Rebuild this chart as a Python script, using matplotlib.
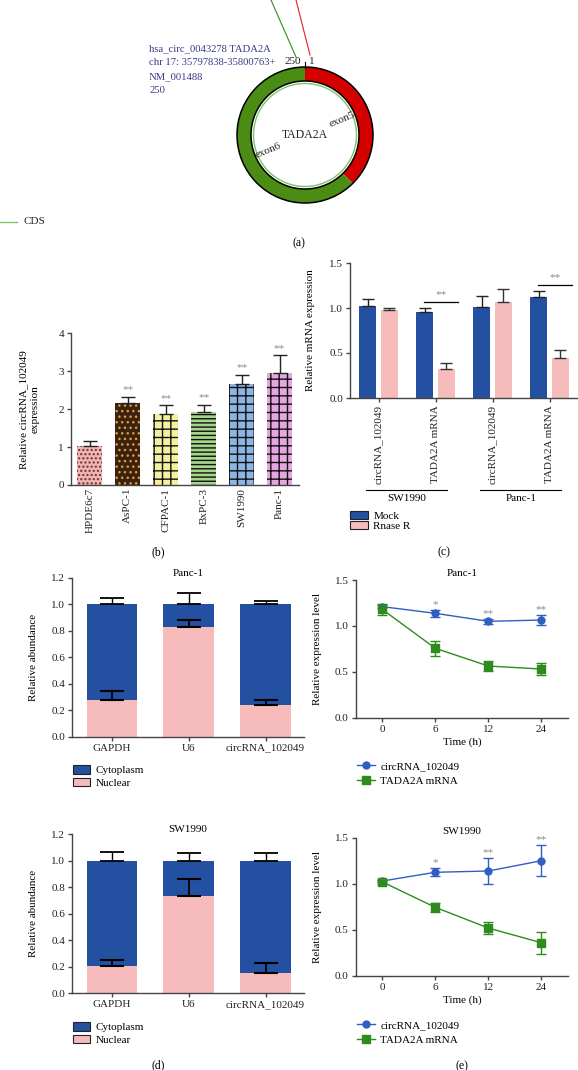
import numpy as np
import matplotlib
matplotlib.use("Agg")
import matplotlib.pyplot as plt
from matplotlib.patches import Wedge, Circle, Patch
from matplotlib.lines import Line2D
from matplotlib.ticker import FormatStrFormatter

plt.rcParams["font.family"] = ["Liberation Serif", "DejaVu Serif"]
plt.rcParams["font.size"] = 8
plt.rcParams["hatch.linewidth"] = 1.0

W, H = 578, 1070
FS = 8

# ---- (a) circRNA structure ----
circ_info = ["hsa_circ_0043278 TADA2A", "chr 17: 35797838-35800763+", "NM_001488", "250"]
exon_names = ["exon5", "exon6"]
exon_len = [94, 156]
exon_colors = ["#d40000", "#4a8c14"]

# ---- (b) expression in cell lines ----
cell_lines = ["HPDE6c7", "AsPC-1", "CFPAC-1", "BxPC-3", "SW1990", "Panc-1"]
circ_expr = [1.03, 2.17, 1.86, 1.93, 2.65, 2.96]
circ_err = [0.13, 0.16, 0.24, 0.18, 0.26, 0.46]
circ_sig = ["", "**", "**", "**", "**", "**"]

# ---- (c) RNase R ----
rnase_targets = ["circRNA_102049", "TADA2A mRNA", "circRNA_102049", "TADA2A mRNA"]
rnase_cells = ["SW1990", "Panc-1"]
mock_vals = [1.02, 0.955, 1.015, 1.12]
mock_err = [0.08, 0.04, 0.12, 0.065]
rnase_vals = [0.98, 0.32, 1.07, 0.45]
rnase_err = [0.025, 0.065, 0.14, 0.08]
rnase_sig_groups = [1, 3]
rnase_sig_level = [1.07, 1.255]

# ---- (d) nuclear / cytoplasm fractionation ----
frac_genes = ["GAPDH", "U6", "circRNA_102049"]
panc_nuclear = [0.28, 0.83, 0.24]
panc_nuclear_err = [0.067, 0.053, 0.04]
panc_cyto_err = [0.045, 0.087, 0.024]
sw_nuclear = [0.206, 0.737, 0.156]
sw_nuclear_err = [0.043, 0.128, 0.07]
sw_cyto_err = [0.069, 0.059, 0.059]

# ---- (e) actinomycin D time course ----
time_labels = ["0", "6", "12", "24"]
panc_circ = [1.21, 1.137, 1.05, 1.064]
panc_circ_err = [0.02, 0.04, 0.03, 0.055]
panc_tada = [1.18, 0.756, 0.563, 0.53]
panc_tada_err = [0.06, 0.08, 0.055, 0.067]
panc_sig = ["", "*", "**", "**"]
sw_circ = [1.029, 1.124, 1.138, 1.25]
sw_circ_err = [0.015, 0.045, 0.14, 0.17]
sw_tada = [1.02, 0.743, 0.518, 0.358]
sw_tada_err = [0.02, 0.05, 0.07, 0.12]
sw_sig = ["", "*", "**", "**"]

BLUE = "#2350a0"
PINK = "#f6bcbc"
LBLUE = "#2f5fc0"
LGREEN = "#2e8b1e"
STAR = "#8a8a8a"

fig = plt.figure(figsize=(W / 100, H / 100), dpi=100)


def add_ax(l, t, r, b):
    return fig.add_axes([l / W, 1 - b / H, (r - l) / W, (b - t) / H])


def style(ax):
    for s in ["top", "right"]:
        ax.spines[s].set_visible(False)
    for s in ["left", "bottom"]:
        ax.spines[s].set_color("#444")
        ax.spines[s].set_linewidth(1.0)
    ax.tick_params(colors="#222", length=3, width=1.0, pad=2, labelsize=FS)
    ax.tick_params(color="#444")


def fig_legend(ax, handles, labels, x, y, **kw):
    opts = dict(loc="upper left", bbox_to_anchor=(x / W, 1 - y / H), bbox_transform=fig.transFigure,
                frameon=False, borderpad=0, borderaxespad=0, fontsize=FS, handletextpad=0.5)
    opts.update(kw)
    ax.legend(handles, labels, **opts)


# ---------------- (a) ----------------
ax = add_ax(0, 0, W, 250)
ax.set_xlim(0, W)
ax.set_ylim(0, 250)
ax.axis("off")
cx, cy, r_out, ring = 305, 250 - 135, 68, 14
start = 90
total = sum(exon_len)
for name, n, c in zip(exon_names, exon_len, exon_colors):
    span = n / total * 360
    ax.add_patch(Wedge((cx, cy), r_out, start - span, start, width=ring, facecolor=c, edgecolor="none"))
    mid = np.deg2rad(start - span / 2)
    rot = np.rad2deg(mid) % 180
    if rot > 90:
        rot -= 180
    ax.text(cx + 40 * np.cos(mid), cy + 40 * np.sin(mid), name, rotation=rot, ha="center", va="center",
            rotation_mode="anchor", fontsize=FS, color="#222")
    start -= span
ax.add_patch(Circle((cx, cy), r_out, fill=False, edgecolor="black", lw=1.1))
ax.add_patch(Circle((cx, cy), r_out - ring, fill=False, edgecolor="black", lw=1.1))
ax.add_patch(Circle((cx, cy), r_out - ring - 2.5, fill=False, edgecolor="#7cc36a", lw=1.0))
ax.text(cx, cy, "TADA2A", ha="center", va="center", fontsize=8.5, color="#222")
for i, line in enumerate(circ_info):
    ax.text(149, 250 - 49 - i * 13.7, line, ha="left", va="center", fontsize=7.7, color="#3a3a8a")
ax.text(301, 250 - 61, str(total), ha="right", va="center", fontsize=FS, color="#222")
ax.text(309, 250 - 61, "1", ha="left", va="center", fontsize=FS, color="#222")
ax.plot([cx, cx], [250 - 62, 250 - 67.5], color="black", lw=0.8)
ax.plot([296, 271], [250 - 57, 250], color="#2e8b1e", lw=0.8)
ax.plot([310, 296], [250 - 55, 250], color="#e02020", lw=0.8)
ax.plot([0, 17], [250 - 222, 250 - 222], color="#7cc36a", lw=1.0)
ax.text(24, 250 - 222, "CDS", ha="left", va="center", fontsize=FS, color="#222")
ax.text(299, 250 - 243, "(a)", ha="center", va="center", fontsize=8.5)

# ---------------- (b) ----------------
ax = add_ax(71, 333.3, 298.5, 485)
style(ax)
x = np.arange(len(cell_lines))
b_faces = ["#f2b3b3", "#3a2210", "#f5f0a0", "#a6d68a", "#8db4e2", "#e6a6e0"]
b_hatch_col = ["#6a3030", "#e8983a", "#111111", "#111111", "#111111", "#111111"]
b_hatch = ["....", "...", "++", "----", "++", "++"]
for xi, v, f, hc, hp in zip(x, circ_expr, b_faces, b_hatch_col, b_hatch):
    ax.bar(xi, v, width=0.66, color=f, edgecolor=hc, hatch=hp, lw=0)
ax.errorbar(x, circ_expr, yerr=[np.zeros(len(x)), circ_err], fmt="none", ecolor="#222",
            elinewidth=1.0, capsize=5, capthick=1.0)
for xi, v, e, s in zip(x, circ_expr, circ_err, circ_sig):
    if s:
        ax.text(xi, v + e + 0.07, s, ha="center", va="bottom", color=STAR, fontsize=FS)
ax.set_xlim(-0.5, 5.5)
ax.set_ylim(0, 4)
ax.set_yticks([0, 1, 2, 3, 4])
ax.set_xticks(x)
ax.set_xticklabels(cell_lines, rotation=90)
ax.tick_params(axis="x", length=0)
ax.set_ylabel("Relative circRNA_102049\nexpression", fontsize=FS)
ax.yaxis.set_label_coords(-0.14, 0.5)
fig.text(158 / W, 1 - 552 / H, "(b)", ha="center", va="center", fontsize=8.5)

# ---------------- (c) ----------------
ax = add_ax(350, 263, 578, 398)
style(ax)
x = np.arange(len(rnase_targets))
ax.bar(x - 0.19, mock_vals, width=0.3, color=BLUE)
ax.bar(x + 0.19, rnase_vals, width=0.3, color=PINK)
ax.errorbar(x - 0.19, mock_vals, yerr=[np.zeros(len(x)), mock_err], fmt="none", ecolor="#222",
            elinewidth=1.0, capsize=4, capthick=1.0)
ax.errorbar(x + 0.19, rnase_vals, yerr=[np.zeros(len(x)), rnase_err], fmt="none", ecolor="#333",
            elinewidth=1.0, capsize=4, capthick=1.0)
for g, lvl in zip(rnase_sig_groups, rnase_sig_level):
    ax.plot([g - 0.2, g + 0.4], [lvl, lvl], color="black", lw=0.9)
    ax.text(g + 0.1, lvl + 0.03, "**", ha="center", va="bottom", color=STAR, fontsize=FS)
ax.set_xlim(-0.5, 3.5)
ax.set_ylim(0, 1.5)
ax.set_yticks([0, 0.5, 1.0, 1.5])
ax.yaxis.set_major_formatter(FormatStrFormatter("%.1f"))
ax.set_xticks(x)
ax.set_xticklabels(rnase_targets, rotation=90)
ax.set_ylabel("Relative mRNA expression", fontsize=FS)
ax.yaxis.set_label_coords(-0.155, 0.5)
tr = ax.get_xaxis_transform()
for i, cell in enumerate(rnase_cells):
    g0 = 2 * i
    ax.plot([g0 - 0.22, g0 + 1.21], [-0.681, -0.681], transform=tr, clip_on=False, color="black", lw=0.8)
    ax.text(g0 + 0.5, -0.745, cell, transform=tr, ha="center", va="center", fontsize=FS)
fig_legend(ax, [Patch(facecolor=BLUE, edgecolor="#222", lw=0.8), Patch(facecolor=PINK, edgecolor="#222", lw=0.8)],
           ["Mock", "Rnase R"], 350, 511, handlelength=1.6, handleheight=0.7, labelspacing=0.0)
fig.text(444 / W, 1 - 552 / H, "(c)", ha="center", va="center", fontsize=8.5)


# ---------------- (d) ----------------
def frac_panel(top, bottom, nuclear, nuc_err, cyto_err, title, leg_y):
    ax = add_ax(72, top, 304, bottom)
    style(ax)
    x = np.arange(len(frac_genes))
    cyto = [1 - n for n in nuclear]
    ax.bar(x, nuclear, width=0.66, color=PINK)
    ax.bar(x, cyto, width=0.66, bottom=nuclear, color=BLUE)
    ax.errorbar(x, nuclear, yerr=[np.zeros(len(x)), nuc_err], fmt="none", ecolor="black",
                elinewidth=1.3, capsize=8.5, capthick=1.5)
    ax.errorbar(x, [1.0] * len(x), yerr=[np.zeros(len(x)), cyto_err], fmt="none", ecolor="black",
                elinewidth=1.0, capsize=8.5, capthick=1.3)
    ax.set_xlim(-0.52, 2.5)
    ax.set_ylim(0, 1.2)
    ax.set_yticks(np.arange(0, 1.21, 0.2))
    ax.yaxis.set_major_formatter(FormatStrFormatter("%.1f"))
    ax.set_xticks(x)
    ax.set_xticklabels(frac_genes)
    ax.set_ylabel("Relative abundance", fontsize=FS)
    ax.yaxis.set_label_coords(-0.147, 0.5)
    ax.set_title(title, fontsize=FS, pad=1)
    fig_legend(ax, [Patch(facecolor=BLUE, edgecolor="#222", lw=0.8), Patch(facecolor=PINK, edgecolor="#222", lw=0.8)],
               ["Cytoplasm", "Nuclear"], 73, leg_y, handlelength=1.55, handleheight=0.85, labelspacing=0.2)


frac_panel(577.7, 736.7, panc_nuclear, panc_nuclear_err, panc_cyto_err, "Panc-1", 765)
frac_panel(834.3, 993.3, sw_nuclear, sw_nuclear_err, sw_cyto_err, "SW1990", 1022)
fig.text(158 / W, 1 - 1065 / H, "(d)", ha="center", va="center", fontsize=8.5)


# ---------------- (e) ----------------
def time_panel(top, bottom, circ, c_err, tada, t_err, sig, title, leg_y):
    ax = add_ax(355.7, top, 568, bottom)
    style(ax)
    x = np.arange(len(time_labels))
    ax.errorbar(x, circ, yerr=c_err, color=LBLUE, marker="o", ms=5, lw=1.0, elinewidth=1.0,
                capsize=3.5, capthick=1.0)
    ax.errorbar(x, tada, yerr=t_err, color=LGREEN, marker="s", ms=5.5, lw=1.0, elinewidth=1.0,
                capsize=3.5, capthick=1.0)
    for xi, v, e, s in zip(x, circ, c_err, sig):
        if s:
            ax.text(xi, v + e + 0.01, s, ha="center", va="bottom", color=STAR, fontsize=FS)
    ax.set_xlim(-0.5, 3.5)
    ax.set_ylim(0, 1.5)
    ax.set_yticks([0, 0.5, 1.0, 1.5])
    ax.yaxis.set_major_formatter(FormatStrFormatter("%.1f"))
    ax.set_xticks(x)
    ax.set_xticklabels(time_labels)
    ax.set_xlabel("Time (h)", labelpad=3, fontsize=FS)
    ax.set_ylabel("Relative expression level", fontsize=FS)
    ax.yaxis.set_label_coords(-0.16, 0.5)
    ax.set_title(title, fontsize=FS, pad=3)
    h1 = Line2D([], [], color=LBLUE, marker="o", ms=5, lw=1.0)
    h2 = Line2D([], [], color=LGREEN, marker="s", ms=5.5, lw=1.0)
    fig_legend(ax, [h1, h2], ["circRNA_102049", "TADA2A mRNA"], 357, leg_y,
               handlelength=1.6, labelspacing=0.45)


time_panel(580, 717.7, panc_circ, panc_circ_err, panc_tada, panc_tada_err, panc_sig, "Panc-1", 761)
time_panel(837.7, 975.7, sw_circ, sw_circ_err, sw_tada, sw_tada_err, sw_sig, "SW1990", 1020)
fig.text(462 / W, 1 - 1066 / H, "(e)", ha="center", va="center", fontsize=8.5)

fig.savefig("out.png", dpi=100, facecolor="white")
